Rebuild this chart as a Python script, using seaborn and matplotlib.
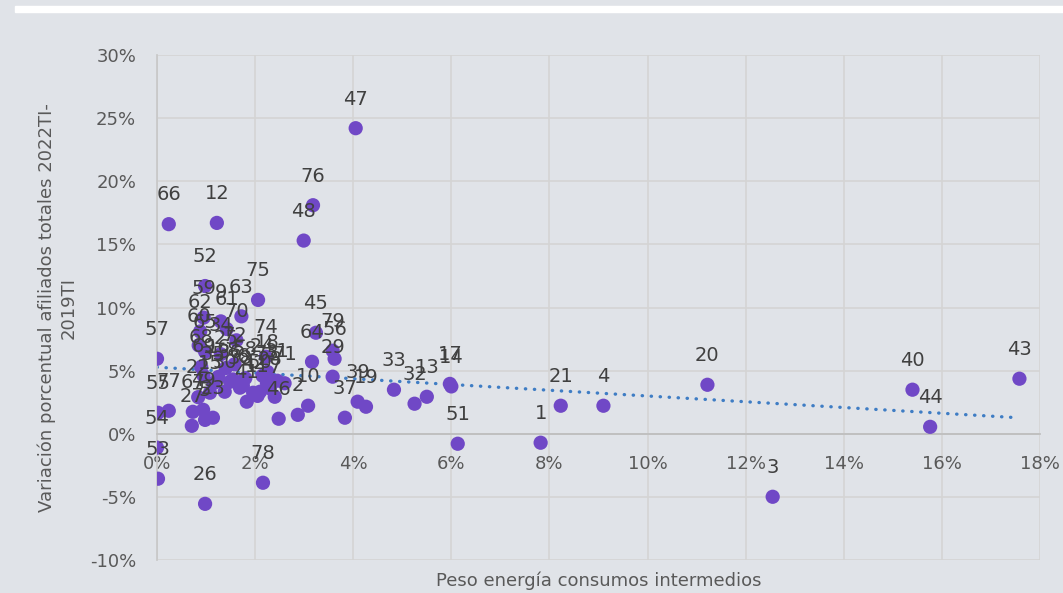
# Scatter: peso energía vs variación afiliados, with linear trend (dotted)
import numpy as np
import pandas as pd
import seaborn as sns
import matplotlib.pyplot as plt
from matplotlib.patches import Rectangle
from matplotlib.ticker import PercentFormatter

# sector ids, peso energía consumos intermedios (%), variación afiliados (%)
ids = [1, 2, 3, 4, 10, 12, 13, 14, 17, 19, 20, 21, 26, 29, 32, 33, 37, 39, 40, 43,
       44, 45, 46, 47, 48, 51, 53, 54, 55, 56, 57, 64, 66, 75, 76, 78, 79,
       52, 59, 9, 63, 62, 61, 60, 70, 34, 65, 68, 72, 74, 35, 25, 6, 18, 28,
       24, 58, 31, 16, 71, 69, 8, 11,
       77, 27, 23, 49, 5, 22, 15, 30, 36, 38, 41, 42, 50, 73, 7, 67]
peso = [7.82, 2.87, 12.55, 9.10, 3.08, 1.22, 5.50, 6.00, 5.97, 4.26, 11.22, 8.23, 0.98, 3.58,
        5.25, 4.83, 3.83, 4.09, 15.40, 17.58, 15.76, 3.24, 2.48, 4.05, 2.99, 6.13, 0.02, 0.00,
        0.02, 3.62, 0.00, 3.16, 0.24, 2.06, 3.18, 2.16, 3.58,
        0.98, 0.95, 1.30, 1.72, 0.88, 1.42, 0.85, 1.62, 1.30, 0.98, 0.90, 1.58, 2.22, 1.15,
        1.40, 1.75, 2.25, 2.30, 2.15, 1.80, 2.45, 1.25, 2.60, 0.95, 1.55, 2.05,
        0.24, 0.71, 1.14, 0.94, 0.98, 0.84, 1.08, 1.38, 1.49, 1.69, 1.83, 1.96, 2.10, 2.24,
        2.40, 0.73]
variacion = [-0.71, 1.50, -4.99, 2.22, 2.22, 16.7, 2.93, 3.75, 3.95, 2.14, 3.88, 2.22, -5.55,
             4.52, 2.38, 3.49, 1.27, 2.54, 3.49, 4.36, 0.55, 8.0, 1.19, 24.2, 15.3, -0.79,
             -3.56, -1.10, 1.66, 5.94, 5.94, 5.70, 16.6, 10.6, 18.1, -3.88, 6.58,
             11.7, 9.2, 8.9, 9.3, 8.1, 8.3, 7.0, 7.4, 6.3, 6.5, 5.3, 5.5, 6.1, 4.0,
             5.2, 3.8, 4.9, 3.6, 4.6, 4.4, 4.2, 4.5, 4.0, 4.6, 4.3, 3.0,
             1.82, 0.63, 1.27, 1.90, 1.10, 2.90, 3.25, 3.33, 4.12, 3.65, 2.54, 3.25, 3.33,
             4.04, 2.93, 1.74]

df = pd.DataFrame({"peso": peso, "var": variacion, "id": ids})

sns.set_theme(style="whitegrid")
plt.rcParams["font.family"] = ["DejaVu Sans"]
plt.rcParams["axes.unicode_minus"] = False

fig = plt.figure(figsize=(10.63, 5.93), dpi=100, facecolor="#e0e3e8")
fig.patches.append(Rectangle((15 / 1063, 1 - 12 / 593), 1, 6 / 593,
                             transform=fig.transFigure, color="white"))
ax = fig.add_axes([0.1477, 0.0556, 0.8307, 0.8517])
ax.set_facecolor("none")

sns.regplot(data=df, x="peso", y="var", scatter=False, ci=None, ax=ax, color="#3f7dc4",
            line_kws=dict(ls=(0, (0.1, 2.6)), lw=2.4, dash_capstyle="round"))
sns.scatterplot(data=df, x="peso", y="var", s=105, color="#7048c6", edgecolor="none",
                ax=ax, zorder=3)
for x, y, n in zip(peso, variacion, ids):
    ax.annotate(str(n), (x, y), xytext=(0, 21), textcoords="offset points",
                ha="center", va="center", fontsize=14, color="#404040", zorder=4)

ax.set_xlim(0, 18)
ax.set_ylim(-10, 30)
ax.set_xticks(range(0, 19, 2))
ax.set_yticks(range(-10, 31, 5))
ax.xaxis.set_major_formatter(PercentFormatter(decimals=0))
ax.yaxis.set_major_formatter(PercentFormatter(decimals=0))
ax.grid(color="#d4d4d4", lw=1.2)
ax.spines["bottom"].set_position(("data", 0))
ax.spines["bottom"].set_color("#bdbdbd")
ax.spines["left"].set_color("#c8c8c8")
for s in ["top", "right"]:
    ax.spines[s].set_visible(False)
ax.tick_params(axis="both", length=0, labelsize=13, labelcolor="#595959")
ax.tick_params(axis="x", pad=15)
ax.tick_params(axis="y", pad=15)

ax.set_xlabel("Peso energía consumos intermedios", fontsize=13, color="#595959")
ax.xaxis.set_label_coords(0.5, -0.022)
ax.set_ylabel("Variación porcentual afiliados totales 2022TI-\n2019TI", fontsize=13,
              color="#595959", linespacing=1.25)
ax.yaxis.set_label_coords(-0.09, 0.5)

plt.savefig("out.png", dpi=100, facecolor=fig.get_facecolor())
